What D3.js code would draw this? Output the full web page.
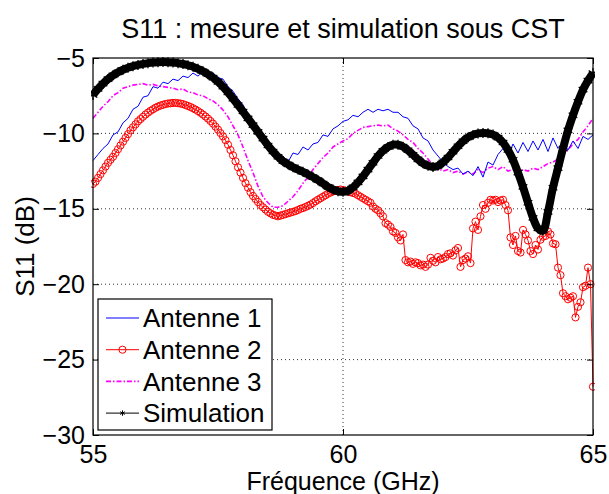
<!DOCTYPE html>
<html>
<head>
<meta charset="utf-8">
<script src="https://cdn.jsdelivr.net/npm/d3@7"></script>
<style>
body { margin: 0; background: #fff; }
svg text { font-family: "Liberation Sans", Arial, Helvetica, sans-serif; fill: #000; }
</style>
</head>
<body>
<script>
// S11 mesuré (3 antennes) et simulé sous CST, en dB
var antenne1 = [-11.8, -11.4, -11.0, -10.7, -10.1, -9.9, -9.3, -9.0, -8.4, -8.2,
    -7.6, -7.5, -6.9, -7.0, -6.6, -6.7, -6.4, -6.5, -6.2, -6.3,
    -6.0, -6.2, -5.9, -6.1, -6.0, -6.3, -6.4, -6.9, -7.2, -7.7,
    -8.1, -8.8, -9.3, -9.9, -10.4, -10.9, -11.2, -11.6, -11.5, -11.9,
    -11.3, -11.4, -10.9, -11.1, -10.7, -10.6, -10.1, -10.2, -9.7, -9.5,
    -9.2, -9.1, -8.8, -8.9, -8.6, -8.4, -8.6, -8.4, -8.5, -8.4,
    -8.6, -8.6, -8.9, -9.0, -9.5, -9.7, -10.3, -10.5, -11.1, -11.5,
    -11.9, -12.2, -12.4, -12.3, -12.7, -12.5, -12.8, -12.2, -12.9, -11.9,
    -12.1, -11.4, -11.0, -11.5, -10.7, -11.3, -10.6, -11.2, -10.5, -11.1,
    -10.4, -11.2, -10.3, -11.0, -10.6, -11.1, -10.5, -11.0, -10.2, -10.4,
    -10.1];

var antenne2 = [-13.35, -13.2, -12.95, -12.7, -12.45, -12.2, -11.95, -11.75, -11.55, -11.3,
    -11.05, -10.8, -10.55, -10.3, -10.05, -9.8, -9.6, -9.4, -9.2, -9.05,
    -8.9, -8.75, -8.62, -8.5, -8.4, -8.3, -8.22, -8.15, -8.1, -8.05,
    -8.02, -8.0, -7.98, -7.98, -8.0, -8.02, -8.06, -8.12, -8.18, -8.25,
    -8.33, -8.42, -8.52, -8.63, -8.75, -8.88, -9.02, -9.18, -9.35, -9.55,
    -9.75, -9.98, -10.2, -10.45, -10.75, -11.1, -11.45, -11.85, -12.25, -12.6,
    -12.95, -13.3, -13.6, -13.9, -14.15, -14.35, -14.55, -14.75, -14.9, -15.05,
    -15.2, -15.3, -15.4, -15.45, -15.5, -15.45, -15.4, -15.35, -15.3, -15.25,
    -15.2, -15.15, -15.08, -15.0, -14.95, -14.88, -14.8, -14.72, -14.62, -14.5,
    -14.4, -14.3, -14.2, -14.1, -14.0, -13.92, -13.85, -13.8, -13.75, -13.72,
    -13.75, -13.8, -13.85, -13.9, -13.95, -14.0, -14.1, -14.2, -14.3, -14.4,
    -14.5, -14.6, -14.85, -15.0, -15.1, -15.3, -15.5, -15.95, -16.05, -16.2,
    -16.5, -16.6, -16.9, -17.1, -16.7, -18.4, -18.55, -18.5, -18.65, -18.55,
    -18.6, -18.75, -18.7, -18.85, -18.7, -18.25, -18.45, -18.55, -18.2, -18.35,
    -18.3, -18.2, -18.0, -17.95, -18.1, -17.75, -17.6, -18.85, -18.4, -18.3,
    -18.15, -18.6, -16.3, -15.85, -16.4, -15.5, -14.75, -15.0, -14.6, -14.4,
    -14.45, -14.4, -14.55, -14.45, -14.4, -14.75, -15.1, -16.9, -17.4, -16.8,
    -17.8, -17.9, -16.4, -16.7, -17.1, -17.8, -18.0, -17.4, -17.7, -17.05,
    -16.85, -16.8, -16.5, -16.7, -17.3, -17.35, -18.9, -19.4, -20.6, -20.8,
    -21.0, -20.9, -20.8, -22.2, -21.5, -21.2, -20.2, -20.1, -18.9, -20.0,
    -26.8];

var antenne3 = [-9.0, -8.6, -8.2, -7.9, -7.5, -7.3, -7.0, -6.9, -6.8, -6.75,
    -6.7, -6.8, -6.75, -6.85, -6.9, -6.95, -7.0, -7.1, -7.05, -7.25,
    -7.3, -7.45, -7.5, -7.7, -7.85, -8.1, -8.45, -8.9, -9.5, -10.1,
    -10.9, -11.8, -12.6, -13.5, -14.2, -14.6, -14.9, -14.9, -14.8, -14.5,
    -14.2, -13.8, -13.3, -12.9, -12.4, -12.0, -11.6, -11.3, -10.9, -10.7,
    -10.5, -10.35, -10.0, -9.8, -9.6, -9.55, -9.5, -9.45, -9.5, -9.45,
    -9.7, -9.85, -10.1, -10.4, -10.6, -11.0, -11.3, -11.7, -12.1, -12.3,
    -12.5, -12.4, -12.6, -12.5, -12.7, -12.55, -12.7, -12.4, -12.6, -12.3,
    -12.2, -12.4, -12.2, -12.5, -12.4, -12.6, -12.4, -12.5, -12.3, -12.4,
    -12.2, -12.0, -11.9, -11.7, -11.4, -11.1, -10.7, -10.4, -9.9, -9.5,
    -9.0];

var simulation = [-7.45, -7.05, -6.7, -6.4, -6.15, -5.95, -5.78, -5.65, -5.54, -5.46,
    -5.39, -5.34, -5.3, -5.28, -5.27, -5.28, -5.3, -5.34, -5.4, -5.48,
    -5.58, -5.72, -5.88, -6.08, -6.3, -6.58, -6.9, -7.28, -7.7, -8.12,
    -8.55, -9.0, -9.45, -9.9, -10.35, -10.8, -11.2, -11.55, -11.85, -12.05,
    -12.25, -12.4, -12.55, -12.72, -12.9, -13.1, -13.32, -13.55, -13.72, -13.84,
    -13.87, -13.8, -13.58, -13.25, -12.85, -12.4, -11.95, -11.5, -11.15, -10.9,
    -10.75, -10.75, -10.88, -11.12, -11.42, -11.72, -11.98, -12.15, -12.22, -12.15,
    -11.92, -11.6, -11.22, -10.85, -10.52, -10.27, -10.1, -10.0, -9.97, -9.99,
    -10.08, -10.28, -10.6, -11.1, -11.75, -12.6, -13.55, -14.6, -15.6, -16.3,
    -16.45, -15.2, -13.6, -12.3, -11.0, -9.8, -8.8, -7.9, -7.1, -6.5,
    -6.0];

var xTicks = [55, 60, 65];
var yTicks = [-30, -25, -20, -15, -10, -5];
var legendLabels = ["Antenne 1", "Antenne 2", "Antenne 3", "Simulation"];

// balayage 55-65 GHz
function freqs(n) {
    return d3.range(n).map(function (i) { return 55 + i * 10 / (n - 1); });
}

var w = 609, h = 494;
var m = {left: 93, right: 16, top: 58, bottom: 59};
var iw = w - m.left - m.right, ih = h - m.top - m.bottom;

var svg = d3.select("body").append("svg")
    .attr("width", w)
    .attr("height", h);

var x = d3.scaleLinear().domain([55, 65]).range([0, iw]);
var y = d3.scaleLinear().domain([-30, -5]).range([ih, 0]);

var g = svg.append("g").attr("transform", "translate(" + m.left + "," + m.top + ")");

// grille pointillée
g.selectAll(".gx").data(xTicks.slice(1, -1)).enter().append("line")
    .attr("x1", function (d) { return x(d); }).attr("x2", function (d) { return x(d); })
    .attr("y1", 0).attr("y2", ih)
    .attr("stroke", "#000").attr("stroke-width", 0.8).attr("stroke-dasharray", "1,3");
g.selectAll(".gy").data(yTicks.slice(1, -1)).enter().append("line")
    .attr("y1", function (d) { return y(d); }).attr("y2", function (d) { return y(d); })
    .attr("x1", 0).attr("x2", iw)
    .attr("stroke", "#000").attr("stroke-width", 0.8).attr("stroke-dasharray", "1,3");

var clip = g.append("clipPath").attr("id", "clip").append("rect")
    .attr("x", -2).attr("y", -2).attr("width", iw + 4).attr("height", ih + 4);
var plot = g.append("g").attr("clip-path", "url(#clip)");

function pts(vals) {
    var f = freqs(vals.length);
    return vals.map(function (v, i) { return [f[i], v]; });
}
var line = d3.line().x(function (d) { return x(d[0]); }).y(function (d) { return y(d[1]); });
var smooth = d3.line().curve(d3.curveCatmullRom)
    .x(function (d) { return x(d[0]); }).y(function (d) { return y(d[1]); });

// Antenne 2 (rouge, cercles)
var a2 = pts(antenne2);
plot.append("path").attr("d", line(a2))
    .attr("fill", "none").attr("stroke", "#ff0000").attr("stroke-width", 1);
plot.selectAll(".c2").data(a2).enter().append("circle")
    .attr("cx", function (d) { return x(d[0]); })
    .attr("cy", function (d) { return y(d[1]); })
    .attr("r", 3.6)
    .attr("fill", "none").attr("stroke", "#ff0000").attr("stroke-width", 1);

// Antenne 3 (magenta, tiret-point)
plot.append("path").attr("d", line(pts(antenne3)))
    .attr("fill", "none").attr("stroke", "#ff00ff").attr("stroke-width", 1.6)
    .attr("stroke-dasharray", "5,2,1.5,2");

// Antenne 1 (bleu)
plot.append("path").attr("d", line(pts(antenne1)))
    .attr("fill", "none").attr("stroke", "#0000ff").attr("stroke-width", 1);

// Simulation (noir, étoiles)
var sim = pts(simulation);
plot.append("path").attr("d", smooth(sim))
    .attr("fill", "none").attr("stroke", "#000").attr("stroke-width", 8);
var star = d3.symbol().type(d3.symbolAsterisk).size(70);
plot.selectAll(".s").data(sim).enter().append("path")
    .attr("d", star)
    .attr("transform", function (d) { return "translate(" + x(d[0]) + "," + y(d[1]) + ")"; })
    .attr("stroke", "#000").attr("stroke-width", 1.3).attr("fill", "none");

// cadre + graduations intérieures
g.append("rect").attr("width", iw).attr("height", ih)
    .attr("fill", "none").attr("stroke", "#000").attr("stroke-width", 1.2);

var fmt = function (d) { return d3.format("")(d); };
g.append("g").attr("transform", "translate(0," + ih + ")")
    .call(d3.axisBottom(x).tickValues(xTicks).tickSizeInner(-6).tickSizeOuter(0).tickPadding(10).tickFormat(fmt))
    .call(function (a) { a.select(".domain").remove(); });
g.append("g")
    .call(d3.axisTop(x).tickValues(xTicks).tickSizeInner(-6).tickSizeOuter(0).tickFormat(""))
    .call(function (a) { a.select(".domain").remove(); });
g.append("g")
    .call(d3.axisLeft(y).tickValues(yTicks).tickSizeInner(-6).tickSizeOuter(0).tickPadding(8).tickFormat(fmt))
    .call(function (a) { a.select(".domain").remove(); });
g.append("g").attr("transform", "translate(" + iw + ",0)")
    .call(d3.axisRight(y).tickValues(yTicks).tickSizeInner(-6).tickSizeOuter(0).tickFormat(""))
    .call(function (a) { a.select(".domain").remove(); });

g.selectAll(".tick text").attr("font-size", 25).style("font-family", "Liberation Sans, Arial, sans-serif");
g.selectAll(".tick line").attr("stroke", "#000").attr("stroke-width", 1);

// titres
svg.append("text").attr("x", m.left + iw / 2).attr("y", 38)
    .attr("text-anchor", "middle").attr("font-size", 27)
    .text("S11 : mesure et simulation sous CST");
svg.append("text").attr("x", m.left + iw / 2).attr("y", 490)
    .attr("text-anchor", "middle").attr("font-size", 25)
    .text("Fréquence (GHz)");
svg.append("text").attr("transform", "translate(34," + (m.top + ih / 2) + ") rotate(-90)")
    .attr("text-anchor", "middle").attr("font-size", 26)
    .text("S11 (dB)");

// légende
var lg = g.append("g").attr("transform", "translate(5,241)");
lg.append("rect").attr("width", 174).attr("height", 131)
    .attr("fill", "#fff").attr("stroke", "#000").attr("stroke-width", 1.2);
var styles = [
    {c: "#0000ff", dash: null, mk: null},
    {c: "#ff0000", dash: null, mk: "o"},
    {c: "#ff00ff", dash: "5,2,1.5,2", mk: null},
    {c: "#000", dash: null, mk: "*"}
];
var rows = lg.selectAll(".row").data(legendLabels).enter().append("g")
    .attr("transform", function (d, i) { return "translate(0," + (19 + i * 31.7) + ")"; });
rows.append("line").attr("x1", 8).attr("x2", 41)
    .attr("stroke", function (d, i) { return styles[i].c; })
    .attr("stroke-width", function (d, i) { return i == 2 ? 1.6 : 1; })
    .attr("stroke-dasharray", function (d, i) { return styles[i].dash; });
rows.filter(function (d, i) { return styles[i].mk == "o"; }).append("circle")
    .attr("cx", 24.5).attr("r", 3.6).attr("fill", "none").attr("stroke", "#ff0000");
rows.filter(function (d, i) { return styles[i].mk == "*"; }).append("path")
    .attr("d", d3.symbol().type(d3.symbolAsterisk).size(20))
    .attr("transform", "translate(24.5,0)").attr("stroke", "#000").attr("fill", "none");
rows.append("text").attr("x", 45).attr("dy", "0.35em").attr("font-size", 26)
    .text(function (d) { return d; });
</script>
</body>
</html>
